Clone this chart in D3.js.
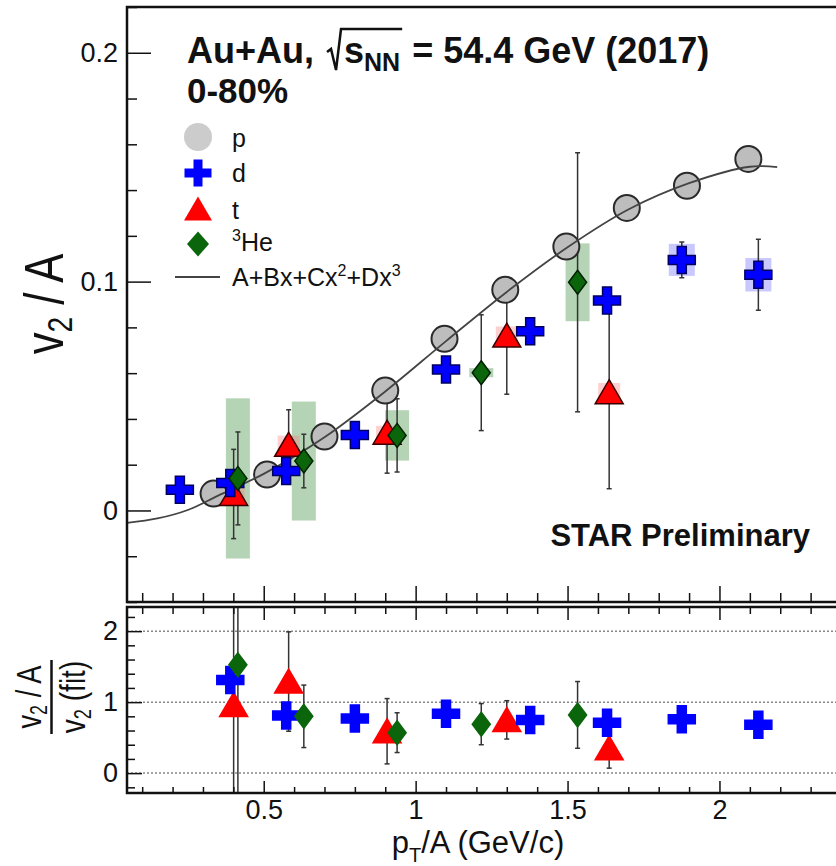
<!DOCTYPE html>
<html>
<head>
<meta charset="utf-8">
<script src="https://cdn.jsdelivr.net/npm/d3@7"></script>
<style>
body { margin: 0; background: #fff; }
svg { display: block; font-family: "Liberation Sans", Arial, Helvetica, sans-serif; }
</style>
</head>
<body>
<svg id="chart"></svg>
<script>
// protons: v2/A vs pT/A
const pX = [0.335, 0.511, 0.70, 0.90, 1.095, 1.295, 1.496, 1.695, 1.893, 2.095];
const pV2 = [0.0074, 0.0157, 0.0323, 0.0524, 0.0750, 0.0964, 0.1153, 0.1322, 0.1419, 0.1536];

// deuterons
const dX = [0.224, 0.39, 0.574, 0.80, 1.10, 1.377, 1.63, 1.876, 2.128];
const dV2 = [0.0090, 0.0120, 0.0172, 0.0330, 0.0616, 0.0783, 0.0917, 0.1095, 0.1030];
const dErr = [0.003, 0.004, 0.003, 0.002, 0.003, 0.003, 0.003, 0.0078, 0.0155];
const dSys = [0.002, 0.002, 0.002, 0.002, 0.002, 0.002, 0.002, 0.007, 0.0073];
const dRatio = [null, 1.31, 0.81, 0.77, 0.835, 0.75, 0.71, 0.76, 0.68];
const dRatioErr = [null, 0.08, 0.05, 0.05, 0.05, 0.05, 0.05, 0.07, 0.12];

// tritons
const tX = [0.401, 0.582, 0.906, 1.30, 1.637];
const tV2 = [0.0072, 0.0287, 0.0340, 0.0764, 0.0517];
const tErr = [0.0195, 0.0153, 0.0177, 0.0256, 0.0422];
const tSys = [0.003, 0.004, 0.003, 0.004, 0.004];
const tRatio = [0.96, 1.29, 0.59, 0.75, 0.35];
const tRatioErr = [2.9, 0.70, 0.46, 0.27, 0.28];

// 3He
const heX = [0.415, 0.632, 0.939, 1.216, 1.533];
const heV2 = [0.0140, 0.0216, 0.0328, 0.0602, 0.0997];
const heErr = [0.0203, 0.0117, 0.016, 0.0253, 0.0566];
const heSys = [0.035, 0.026, 0.011, 0.002, 0.017];
const heRatio = [1.525, 0.80, 0.57, 0.69, 0.82];
const heRatioErr = [2.9, 0.44, 0.28, 0.29, 0.47];

// cubic fit to the protons
const fitX = [0.05, 0.15, 0.25, 0.35, 0.5, 0.7, 0.9, 1.1, 1.3, 1.5, 1.7, 1.9, 2.1, 2.19];
const fitY = [-0.0054, -0.0035, 0.0002, 0.0065, 0.0160, 0.0320, 0.0520, 0.0740, 0.0955, 0.1150, 0.1315, 0.1430, 0.1502, 0.1500];

// axis ticks
const xMajor = [0.5, 1, 1.5, 2];
const xMinor = d3.range(1, 24).map(i => i / 10).filter(v => !xMajor.includes(v));
const yTopMajor = [0, 0.1, 0.2];
const yTopMinor = d3.range(-2, 12).filter(i => i % 5 !== 0).map(i => i * 0.02);
const yBotMajor = [0, 1, 2];
const yBotMinor = d3.range(-1, 12).filter(i => i % 5 !== 0).map(i => i * 0.2);
const ratioGrid = [0, 1, 2];

const svg = d3.select("#chart").attr("width", 836).attr("height", 866);

const x = d3.scaleLinear().domain([0.05, 2.4]).range([127, 841]);
const yTop = d3.scaleLinear().domain([-0.04, 0.22]).range([602, 7]);
const yBot = d3.scaleLinear().domain([-0.28, 2.34]).range([793, 607]);

const defs = svg.append("defs");
defs.append("clipPath").attr("id", "clipTop").append("rect")
    .attr("x", 127).attr("y", 7).attr("width", 715).attr("height", 595);
defs.append("clipPath").attr("id", "clipBot").append("rect")
    .attr("x", 127).attr("y", 607).attr("width", 715).attr("height", 186);

// marker shapes
const crossPath = "M-4.5,-13.5H4.5V-4.5H13.5V4.5H4.5V13.5H-4.5V4.5H-13.5V-4.5H-4.5Z";
const triPath = "M0,-12.5L14,11.5L-14,11.5Z";
const diaPath = "M0,-12L9,0L0,12L-9,0Z";

function zip(xs, ys, es, ss) {
    return xs.map((v, i) => ({ x: v, y: ys[i], e: es ? es[i] : 0, s: ss ? ss[i] : 0 }))
        .filter(d => d.y !== null);
}

function drawAxes(g, yScale, yMajor, yMinor, opts) {
    const style = sel => {
        sel.select(".domain").remove();
        sel.selectAll("line").attr("stroke", "#111").attr("stroke-width", 1.5);
        sel.attr("font-family", null).attr("font-size", 27);
        sel.selectAll("text").attr("fill", "#111");
    };
    // left axis
    g.append("g").attr("transform", "translate(127,0)")
        .call(d3.axisLeft(yScale).tickValues(yMinor).tickSize(-opts.yMinorLen).tickFormat(""))
        .call(style);
    g.append("g").attr("transform", "translate(127,0)")
        .call(d3.axisLeft(yScale).tickValues(yMajor).tickSize(-opts.yMajorLen).tickPadding(9).tickFormat(opts.yFormat))
        .call(style);
    // x axes
    opts.xAxes.forEach(a => {
        const make = a.top ? d3.axisTop : d3.axisBottom;
        g.append("g").attr("transform", `translate(0,${a.y})`)
            .call(make(x).tickValues(xMinor).tickSize(-a.minor).tickFormat(""))
            .call(style);
        g.append("g").attr("transform", `translate(0,${a.y})`)
            .call(make(x).tickValues(xMajor).tickSize(-a.major).tickPadding(7)
                .tickFormat(a.labels ? d3.format("") : ""))
            .call(style);
    });
}

function drawErrors(g, data, yScale, color) {
    const eb = g.append("g").attr("stroke", color).attr("stroke-width", 1.5);
    eb.selectAll(".ebar").data(data).enter().append("line")
        .attr("x1", d => x(d.x)).attr("x2", d => x(d.x))
        .attr("y1", d => yScale(d.y - d.e)).attr("y2", d => yScale(d.y + d.e));
    eb.selectAll(".capLo").data(data).enter().append("line")
        .attr("x1", d => x(d.x) - 2.5).attr("x2", d => x(d.x) + 2.5)
        .attr("y1", d => yScale(d.y - d.e)).attr("y2", d => yScale(d.y - d.e));
    eb.selectAll(".capHi").data(data).enter().append("line")
        .attr("x1", d => x(d.x) - 2.5).attr("x2", d => x(d.x) + 2.5)
        .attr("y1", d => yScale(d.y + d.e)).attr("y2", d => yScale(d.y + d.e));
}

function drawSys(g, data, yScale, color, halfW) {
    g.append("g").selectAll("rect").data(data).enter().append("rect")
        .attr("x", d => x(d.x) - halfW)
        .attr("y", d => yScale(d.y + d.s))
        .attr("width", halfW * 2)
        .attr("height", d => yScale(d.y - d.s) - yScale(d.y + d.s))
        .attr("fill", color);
}

function drawMarkers(g, data, yScale, shape, fill, stroke) {
    g.append("g").selectAll("path").data(data).enter().append("path")
        .attr("d", shape)
        .attr("transform", d => `translate(${x(d.x)},${yScale(d.y)})`)
        .attr("fill", fill)
        .attr("stroke", stroke)
        .attr("stroke-width", 1.5);
}

// ---------------- top panel ----------------
const topPanel = svg.append("g");
const topData = topPanel.append("g").attr("clip-path", "url(#clipTop)");

const dTop = zip(dX, dV2, dErr, dSys);
const tTop = zip(tX, tV2, tErr, tSys);
const heTop = zip(heX, heV2, heErr, heSys);

drawSys(topData, heTop, yTop, "rgba(60,140,60,0.38)", 12);
drawSys(topData, tTop, yTop, "rgba(255,120,120,0.35)", 11);
drawSys(topData, dTop, yTop, "rgba(110,110,255,0.38)", 13);

drawErrors(topData, tTop, yTop, "#333");
drawErrors(topData, heTop, yTop, "#333");
drawErrors(topData, dTop, yTop, "#333");

topData.append("g").selectAll("circle").data(zip(pX, pV2)).enter().append("circle")
    .attr("cx", d => x(d.x)).attr("cy", d => yTop(d.y)).attr("r", 13)
    .attr("fill", "#bdbdbd").attr("stroke", "#2a2a2a").attr("stroke-width", 2);

const fitLine = d3.line().x(d => x(d[0])).y(d => yTop(d[1])).curve(d3.curveCatmullRom);
topData.append("path")
    .attr("d", fitLine(fitX.map((v, i) => [v, fitY[i]])))
    .attr("fill", "none").attr("stroke", "#444").attr("stroke-width", 1.8);

drawMarkers(topData, tTop, yTop, triPath, "#ff0000", "#3a0000");
drawMarkers(topData, dTop, yTop, crossPath, "#0000ff", "#000060");
drawMarkers(topData, heTop, yTop, diaPath, "#0b650b", "#022002");

drawAxes(topPanel, yTop, yTopMajor, yTopMinor, {
    yMinorLen: 10, yMajorLen: 24, yFormat: d3.format(""),
    xAxes: [{ y: 602, top: false, minor: 9, major: 16, labels: false }]
});
topPanel.append("rect").attr("x", 127).attr("y", 7).attr("width", 715).attr("height", 595)
    .attr("fill", "none").attr("stroke", "#111").attr("stroke-width", 2.5);

// title
const title = topPanel.append("g").attr("font-weight", "bold").attr("font-size", 36).attr("fill", "#111");
let cx = 187;
const t1 = title.append("text").attr("x", cx).attr("y", 63).text("Au+Au,");
cx += t1.node().getComputedTextLength() + 13;
const sStart = cx + 17;
const tS = title.append("text").attr("x", sStart).attr("y", 63).text("s");
const sEnd = sStart + tS.node().getComputedTextLength();
const tNN = title.append("text").attr("x", sEnd).attr("y", 71).attr("font-size", 25).text("NN");
const nnEnd = sEnd + tNN.node().getComputedTextLength() + 2;
title.append("path")
    .attr("d", `M${cx},52L${cx + 4},49L${cx + 9},70L${cx + 14},29H${nnEnd}`)
    .attr("fill", "none").attr("stroke", "#111").attr("stroke-width", 2.5);
title.append("text").attr("x", nnEnd).attr("y", 63).attr("xml:space", "preserve")
    .text(" = 54.4 GeV (2017)");
title.append("text").attr("x", 187).attr("y", 103).attr("font-size", 35).text("0-80%");

topPanel.append("text").attr("x", 810).attr("y", 546).attr("text-anchor", "end")
    .attr("font-weight", "bold").attr("font-size", 31).attr("fill", "#111")
    .text("STAR Preliminary");

// legend
const leg = topPanel.append("g").attr("font-size", 25).attr("fill", "#111");
leg.append("circle").attr("cx", 198).attr("cy", 137).attr("r", 14).attr("fill", "#cccccc");
leg.append("path").attr("d", crossPath).attr("transform", "translate(198,173)").attr("fill", "#0000ff");
leg.append("path").attr("d", triPath).attr("transform", "translate(198,209)").attr("fill", "#ff0000");
leg.append("path").attr("d", "M0,-12.5L11,0L0,12.5L-11,0Z").attr("transform", "translate(198,244)").attr("fill", "#0b650b");
leg.append("line").attr("x1", 175).attr("x2", 220).attr("y1", 277).attr("y2", 277)
    .attr("stroke", "#444").attr("stroke-width", 2);
leg.append("text").attr("x", 232).attr("y", 147).text("p");
leg.append("text").attr("x", 232).attr("y", 182).text("d");
leg.append("text").attr("x", 232).attr("y", 219).text("t");
const he = leg.append("text").attr("x", 232).attr("y", 251);
he.append("tspan").attr("font-size", 16).attr("dy", -10).text("3");
he.append("tspan").attr("dy", 10).text("He");
const fitLbl = leg.append("text").attr("x", 232).attr("y", 286);
fitLbl.append("tspan").text("A+Bx+Cx");
fitLbl.append("tspan").attr("font-size", 16).attr("dy", -10).text("2");
fitLbl.append("tspan").attr("dy", 10).text("+Dx");
fitLbl.append("tspan").attr("font-size", 16).attr("dy", -10).text("3");

// y label top
const yl = topPanel.append("g").attr("transform", "translate(63,304) rotate(-90)");
const ylt = yl.append("text").attr("text-anchor", "middle").attr("font-size", 56)
    .attr("fill", "#111").attr("transform", "scale(0.78,1)");
ylt.append("tspan").text("v");
ylt.append("tspan").attr("font-size", 36).attr("dy", 9).text("2");
ylt.append("tspan").attr("dy", -9).attr("xml:space", "preserve").text(" / A");

// ---------------- bottom panel ----------------
const botPanel = svg.append("g");
botPanel.append("g").selectAll("line").data(ratioGrid).enter().append("line")
    .attr("x1", 127).attr("x2", 842)
    .attr("y1", d => yBot(d)).attr("y2", d => yBot(d))
    .attr("stroke", "#888").attr("stroke-width", 1.5).attr("stroke-dasharray", "2,2");

const botData = botPanel.append("g").attr("clip-path", "url(#clipBot)");
const dBot = zip(dX, dRatio, dRatioErr);
const tBot = zip(tX, tRatio, tRatioErr);
const heBot = zip(heX, heRatio, heRatioErr);

drawErrors(botData, tBot, yBot, "#333");
drawErrors(botData, heBot, yBot, "#333");
drawErrors(botData, dBot, yBot, "#333");
drawMarkers(botData, tBot, yBot, triPath, "#ff0000", "#ff0000");
drawMarkers(botData, dBot, yBot, crossPath, "#0000ff", "#0000ff");
drawMarkers(botData, heBot, yBot, diaPath, "#0b650b", "#0b650b");

drawAxes(botPanel, yBot, yBotMajor, yBotMinor, {
    yMinorLen: 8, yMajorLen: 15, yFormat: d3.format(""),
    xAxes: [
        { y: 607, top: true, minor: 7, major: 13, labels: false },
        { y: 793, top: false, minor: 6, major: 12, labels: true }
    ]
});
botPanel.append("rect").attr("x", 127).attr("y", 607).attr("width", 715).attr("height", 186)
    .attr("fill", "none").attr("stroke", "#111").attr("stroke-width", 2.5);

// ratio y label (fraction)
const fr = botPanel.append("g").attr("transform", "translate(0,697) rotate(-90)").attr("fill", "#111");
const num = fr.append("text").attr("y", 41).attr("text-anchor", "middle").attr("font-size", 35)
    .attr("transform", "scale(0.78,1)");
num.append("tspan").text("v");
num.append("tspan").attr("font-size", 23).attr("dy", 6).text("2");
num.append("tspan").attr("dy", -6).attr("xml:space", "preserve").text(" / A");
fr.append("line").attr("x1", -37).attr("x2", 37).attr("y1", 51.5).attr("y2", 51.5)
    .attr("stroke", "#111").attr("stroke-width", 2.5);
const den = fr.append("text").attr("y", 85).attr("text-anchor", "middle").attr("font-size", 35)
    .attr("transform", "scale(0.8,1)");
den.append("tspan").text("v");
den.append("tspan").attr("font-size", 23).attr("dy", 6).text("2");
den.append("tspan").attr("dy", -6).attr("xml:space", "preserve").text(" (fit)");

// x title
const xt = svg.append("text").attr("x", 478).attr("y", 853).attr("text-anchor", "middle")
    .attr("font-size", 31).attr("fill", "#111");
xt.append("tspan").text("p");
xt.append("tspan").attr("font-size", 20).attr("dy", 9).text("T");
xt.append("tspan").attr("dy", -9).text("/A (GeV/c)");
</script>
</body>
</html>
